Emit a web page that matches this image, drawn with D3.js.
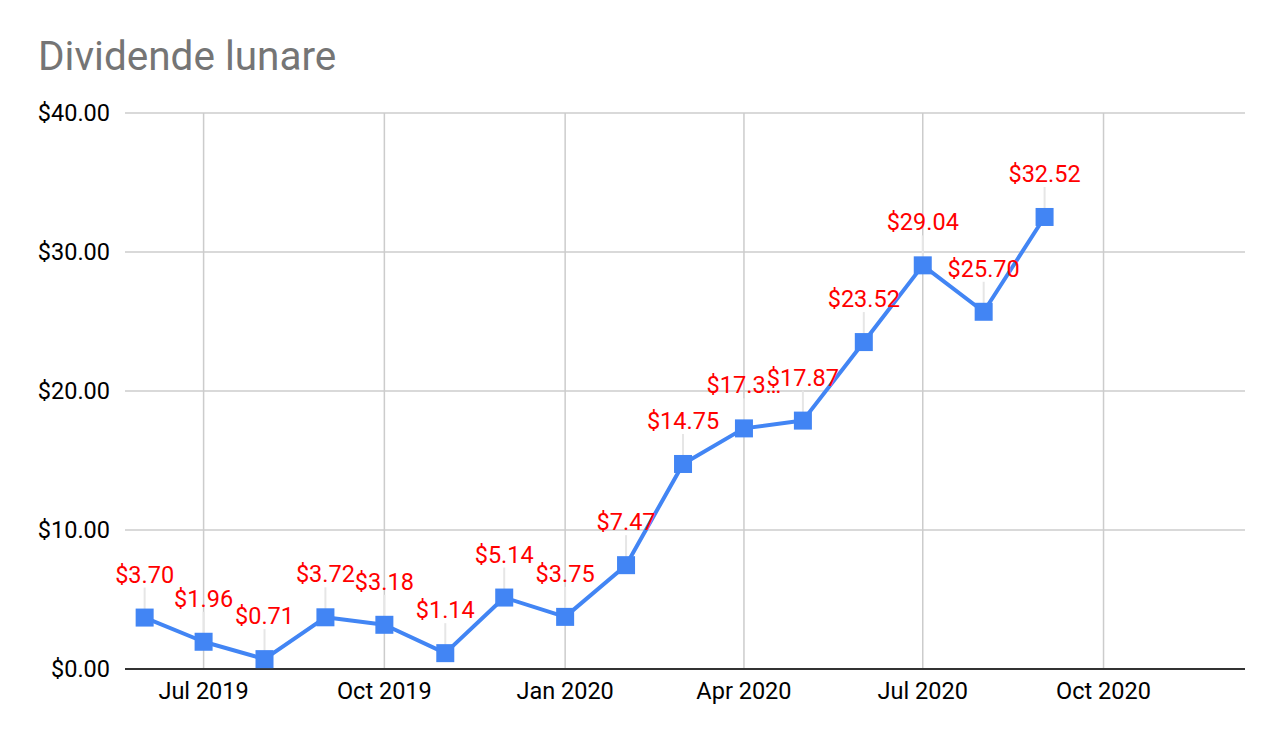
<!DOCTYPE html>
<html>
<head>
<meta charset="utf-8">
<script src="https://cdn.jsdelivr.net/npm/d3@7"></script>
<style>
  body { margin: 0; background: #fff; }
  text { font-family: Roboto, Arial, sans-serif; }
</style>
</head>
<body>
<div id="chart"></div>
<script>
// monthly dividends, first of each month
const months = ['2019-06-01','2019-07-01','2019-08-01','2019-09-01','2019-10-01','2019-11-01',
                '2019-12-01','2020-01-01','2020-02-01','2020-03-01','2020-04-01','2020-05-01',
                '2020-06-01','2020-07-01','2020-08-01','2020-09-01']
const dividends = [3.70, 1.96, 0.71, 3.72, 3.18, 1.14, 5.14, 3.75, 7.47, 14.75, 17.31, 17.87,
                   23.52, 29.04, 25.70, 32.52]
const yTicks = [0, 10, 20, 30, 40]
const truncated = [10] // labels cut short by the chart (overlap)

const width = 1282
const height = 742
const margin = {top: 113, right: 37, bottom: 73, left: 125}

const parse = d3.timeParse('%Y-%m-%d')
const data = months.map((m, i) => ({date: parse(m), value: dividends[i], i: i}))

const svg = d3.select('#chart')
    .append('svg')
    .attr('width', width)
    .attr('height', height)

const x = d3.scaleTime()
    .domain([parse('2019-05-22'), parse('2020-12-12')])
    .range([margin.left, width - margin.right])

const y = d3.scaleLinear()
    .domain([0, 40])
    .range([height - margin.bottom, margin.top])

const fmt = d3.format('$.2f')

svg.append('text')
    .attr('x', 38)
    .attr('y', 70)
    .attr('fill', '#757575')
    .attr('font-size', 40.5)
    .text('Dividende lunare')

// horizontal grid + y labels
svg.append('g')
    .selectAll('line')
    .data(yTicks.filter(d => d > 0))
    .join('line')
    .attr('x1', margin.left)
    .attr('x2', width - margin.right)
    .attr('y1', d => y(d))
    .attr('y2', d => y(d))
    .attr('stroke', '#cccccc')
    .attr('stroke-width', 1.5)

svg.append('g')
    .selectAll('text')
    .data(yTicks)
    .join('text')
    .attr('x', 110)
    .attr('y', d => y(d) + 8)
    .attr('text-anchor', 'end')
    .attr('font-size', 23.5)
    .attr('fill', '#000')
    .text(d => fmt(d))

// vertical grid at quarters
const xTicks = x.ticks(d3.timeMonth.every(3))
svg.append('g')
    .selectAll('line')
    .data(xTicks)
    .join('line')
    .attr('x1', d => x(d))
    .attr('x2', d => x(d))
    .attr('y1', y(40))
    .attr('y2', y(0))
    .attr('stroke', '#cccccc')
    .attr('stroke-width', 1.5)

svg.append('g')
    .selectAll('text')
    .data(xTicks)
    .join('text')
    .attr('x', d => x(d))
    .attr('y', y(0) + 30)
    .attr('text-anchor', 'middle')
    .attr('font-size', 23.5)
    .attr('fill', '#000')
    .text(d3.timeFormat('%b %Y'))

// baseline
svg.append('line')
    .attr('x1', margin.left)
    .attr('x2', width - margin.right)
    .attr('y1', y(0))
    .attr('y2', y(0))
    .attr('stroke', '#333333')
    .attr('stroke-width', 2)

// leader lines
svg.append('g')
    .selectAll('line')
    .data(data)
    .join('line')
    .attr('x1', d => x(d.date))
    .attr('x2', d => x(d.date))
    .attr('y1', d => y(d.value) - 30)
    .attr('y2', d => y(d.value))
    .attr('stroke', '#e6e6e6')
    .attr('stroke-width', 2)

const line = d3.line()
    .x(d => x(d.date))
    .y(d => y(d.value))

svg.append('path')
    .datum(data)
    .attr('d', line)
    .attr('fill', 'none')
    .attr('stroke', '#4285f4')
    .attr('stroke-width', 4)
    .attr('stroke-linejoin', 'round')

svg.append('g')
    .selectAll('rect')
    .data(data)
    .join('rect')
    .attr('x', d => x(d.date) - 9)
    .attr('y', d => y(d.value) - 9)
    .attr('width', 18)
    .attr('height', 18)
    .attr('fill', '#4285f4')

svg.append('g')
    .selectAll('text')
    .data(data)
    .join('text')
    .attr('x', d => x(d.date))
    .attr('y', d => y(d.value) - 35)
    .attr('text-anchor', 'middle')
    .attr('font-size', 23.5)
    .attr('fill', '#ff0000')
    .text(d => truncated.includes(d.i) ? fmt(d.value).slice(0, 5) + '…' : fmt(d.value))
</script>
</body>
</html>
